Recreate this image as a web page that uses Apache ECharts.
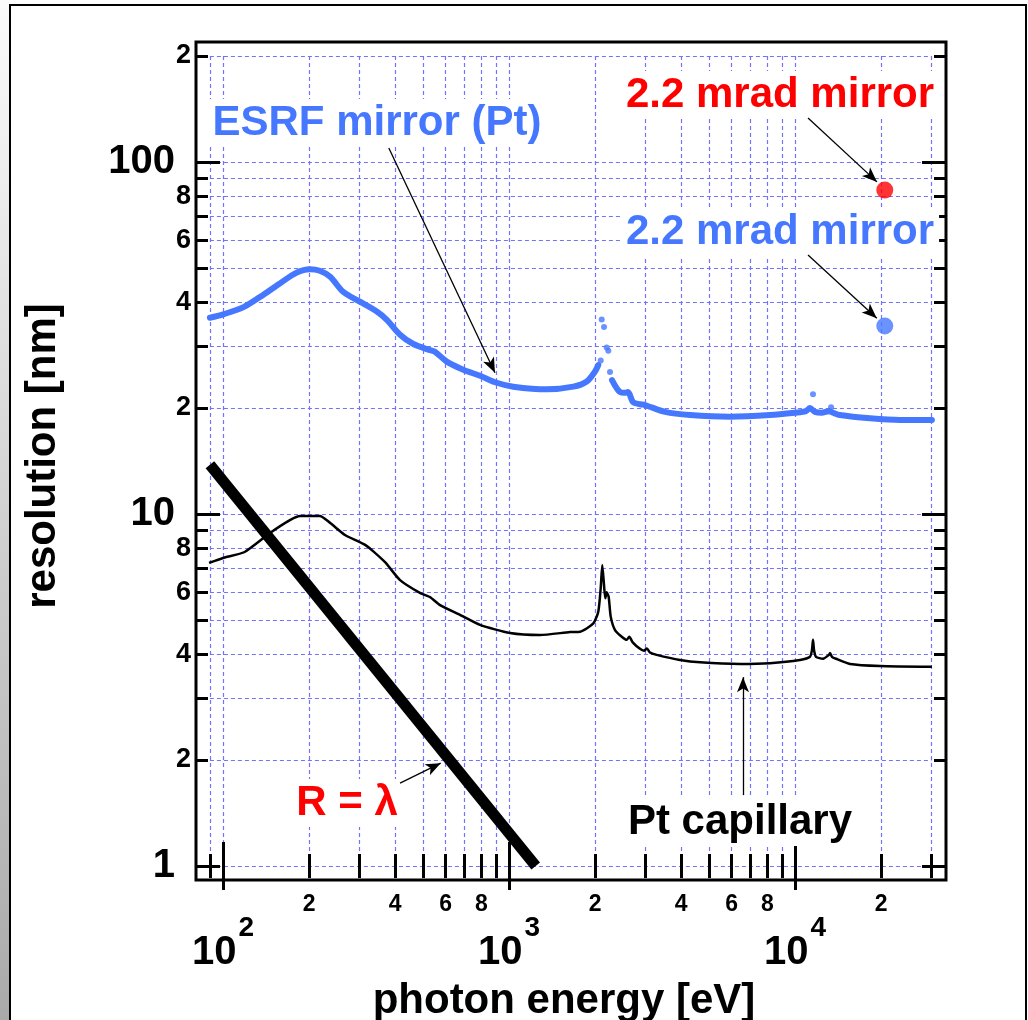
<!DOCTYPE html>
<html>
<head>
<meta charset="utf-8">
<script src="https://cdn.jsdelivr.net/npm/echarts@6/dist/echarts.min.js"></script>
<style>
html, body { margin: 0; padding: 0; background: #fff; }
#main { width: 1028px; height: 1020px; }
</style>
</head>
<body>
<div id="main"></div>
<script>
// ---- data (energy in eV, resolution in nm) ----
var esrfLowE  = [90, 100, 118, 135, 158, 181, 201, 218, 237, 263, 301, 345, 374, 416, 463, 530, 551, 606, 692, 792, 906, 1035, 1355, 1678, 1870, 1999, 2052];
var esrfLowR  = [36.1, 36.9, 38.7, 41.4, 45.2, 48.5, 49.6, 49.1, 47.2, 42.8, 40.1, 37.6, 35.6, 32.3, 30.4, 29.2, 28.9, 27.1, 25.7, 24.7, 23.6, 23.0, 22.6, 23.0, 23.8, 25.4, 26.5];
var esrfHighE = [2292, 2444, 2544, 2607, 2714, 2871, 2989, 3512, 4296, 5925, 8177, 10000, 10926, 11283, 11745, 12405, 13150, 13580, 14340, 18290, 23290, 30100];
var esrfHighR = [24.0, 22.2, 22.1, 22.2, 20.8, 20.5, 20.4, 19.5, 19.1, 18.9, 19.1, 19.4, 19.6, 20.0, 19.5, 19.4, 19.6, 19.4, 19.1, 18.7, 18.5, 18.5];
var esrfDotE  = [2092, 2109, 2149, 2196, 2225, 2255, 11560, 13370];
var esrfDotR  = [27.3, 35.7, 34.0, 29.7, 29.1, 25.3, 21.9, 20.1];

var capE = [89.4, 100, 119, 146, 172, 186, 218, 237, 267, 314, 368, 416, 488, 529, 574, 674, 792, 1008, 1283, 1634, 1772, 1972, 2052, 2092, 2119, 2149, 2171, 2196, 2231, 2268, 2348, 2479, 2579, 2634, 2707, 2871, 2965, 3037, 3112, 3284, 3963, 4654, 6423, 8177, 10411, 11283, 11466, 11560, 11653, 11842, 12529, 13150, 13260, 13470, 13910, 15570, 19830, 30100];
var capR = [7.26, 7.50, 7.80, 8.83, 9.62, 9.87, 9.87, 9.43, 8.72, 8.17, 7.31, 6.49, 5.97, 5.81, 5.51, 5.17, 4.84, 4.59, 4.53, 4.62, 4.63, 4.89, 5.28, 6.15, 7.16, 6.28, 5.76, 5.99, 5.82, 5.11, 4.68, 4.48, 4.39, 4.48, 4.32, 4.14, 4.09, 4.15, 4.04, 3.98, 3.85, 3.79, 3.75, 3.77, 3.85, 3.93, 4.11, 4.39, 4.11, 3.93, 3.88, 3.98, 4.03, 3.93, 3.88, 3.75, 3.70, 3.68];

var lambdaE = [90, 1240];
var lambdaR = [13.8, 1.0];

var mirrorE = [20600];
var mirrorRedR = [83.2];
var mirrorBlueR = [34.2];

// annotation arrows: [startE, startR, endE, endR]
var arrows = [
  [380, 109.6, 893, 25.2],
  [11106, 133.4, 19350, 87.8],
  [11106, 54.4, 19320, 36.0],
  [416, 1.72, 577, 1.96],
  [6580, 1.59, 6580, 3.44]
];

// ticks
var xMinorTicks = [90, 200, 300, 400, 500, 600, 700, 800, 900, 2000, 3000, 4000, 5000, 6000, 7000, 8000, 9000, 20000, 30000];
var xMajorTicks = [100, 1000, 10000];
var xDigitLabels = [200, 400, 600, 800, 2000, 4000, 6000, 8000, 20000];
var yMinorTicks = [2, 3, 4, 5, 6, 7, 8, 9, 20, 30, 40, 50, 60, 70, 80, 90, 200];
var yMajorTicks = [1, 10, 100];
var yDigitLabels = [2, 4, 6, 8, 20, 40, 60, 80, 200];

// ---- layout ----
var LOG = Math.log10;
var X0 = 223, XD = 286, Y0 = 866, YD = 352;   // px of 100 eV / 1 nm, px per decade
var FR = { l: 196, r: 946, t: 42, b: 880 };
var xA = [2 + (FR.l - X0) / XD, 2 + (FR.r - X0) / XD];
var yA = [(Y0 - FR.b) / YD, (Y0 - FR.t) / YD];
var xB = [LOG(90), LOG(30000)];
var yB = [0, LOG(200)];

var FONT = 'Liberation Sans, Arial, sans-serif';
var BLUE = '#4678ff';
var RED = '#ff0000';
var GRIDC = '#7272ff';

function pairs(e, r) { return e.map(function (v, i) { return [LOG(v), LOG(r[i])]; }); }
function logs(a) { return a.map(LOG); }
function leadDigit(v) {
  var n = Math.round(Math.pow(10, v));
  return String(Math.round(n / Math.pow(10, Math.floor(LOG(n) + 1e-9))));
}

var tickStyle = { color: '#000', width: 3 };

function frameAxis(dim, pos, ticks, len, label) {
  var ax = {
    type: 'value', gridIndex: 0, position: pos,
    min: dim === 'x' ? xA[0] : yA[0], max: dim === 'x' ? xA[1] : yA[1],
    axisLine: { show: false },
    splitLine: { show: false },
    axisTick: { show: true, inside: true, length: len, lineStyle: tickStyle, customValues: logs(ticks) },
    axisLabel: { show: false }
  };
  if (label) ax.axisLabel = label;
  return ax;
}

var xAxes = [
  frameAxis('x', 'bottom', xMinorTicks, 12, {
    show: true, customValues: logs(xDigitLabels), margin: 13,
    color: '#000', fontSize: 23, fontWeight: 'bold', fontFamily: FONT,
    formatter: leadDigit
  }),
  frameAxis('x', 'bottom', xMajorTicks, 24, {
    show: true, customValues: logs(xMajorTicks), margin: 34,
    color: '#000', fontFamily: FONT,
    formatter: function (v) { return '{b|10}{s|' + Math.round(v) + '}'; },
    rich: {
      b: { fontSize: 40, fontWeight: 'bold', fontFamily: FONT, color: '#000', verticalAlign: 'middle', lineHeight: 77 },
      s: { fontSize: 28, fontWeight: 'bold', fontFamily: FONT, color: '#000', verticalAlign: 'top', lineHeight: 28, padding: [0, 0, 0, 2] }
    }
  }),
  frameAxis('x', 'top', xMinorTicks, 12),
  frameAxis('x', 'top', xMajorTicks, 24),
  {
    type: 'value', gridIndex: 1, min: xB[0], max: xB[1],
    axisLine: { show: false }, axisLabel: { show: false },
    axisTick: { show: false, customValues: logs(xMinorTicks.concat(xMajorTicks)) },
    splitLine: { show: true, lineStyle: { color: GRIDC, width: 1.2, type: [4, 3] } }
  }
];

var yAxes = [
  frameAxis('y', 'left', yMinorTicks, 12, {
    show: true, customValues: logs(yDigitLabels), margin: 5,
    color: '#000', fontSize: 27, fontWeight: 'bold', fontFamily: FONT,
    formatter: leadDigit
  }),
  frameAxis('y', 'left', yMajorTicks, 24, {
    show: true, customValues: logs(yMajorTicks), margin: 21,
    color: '#000', fontSize: 40, fontWeight: 'bold', fontFamily: FONT,
    formatter: function (v) { return String(Math.round(Math.pow(10, v))); }
  }),
  frameAxis('y', 'right', yMinorTicks, 12),
  frameAxis('y', 'right', yMajorTicks, 24),
  {
    type: 'value', gridIndex: 1, min: yB[0], max: yB[1],
    axisLine: { show: false }, axisLabel: { show: false },
    axisTick: { show: false, customValues: logs(yMinorTicks.concat(yMajorTicks)) },
    splitLine: { show: true, lineStyle: { color: GRIDC, width: 1.2, type: [4, 3] } }
  }
];

function textEl(txt, x, y, color, rot) {
  return {
    type: 'text', x: x, y: y, rotation: rot || 0, z: 1,
    style: {
      text: txt, x: 0, y: 0, fill: color,
      font: 'bold 42px ' + FONT, align: 'center', verticalAlign: 'middle',
      backgroundColor: '#fff', padding: [3, 5]
    }
  };
}

var option = {
  animation: false,
  backgroundColor: '#fff',
  grid: [
    { left: FR.l, top: FR.t, width: FR.r - FR.l, height: FR.b - FR.t, containLabel: false },
    { left: X0 + (xB[0] - 2) * XD, top: Y0 - yB[1] * YD, width: (xB[1] - xB[0]) * XD, height: yB[1] * YD, containLabel: false }
  ],
  xAxis: xAxes,
  yAxis: yAxes,
  graphic: [
    { type: 'rect', shape: { x: 0, y: 0, width: 10, height: 1020 }, z: 0,
      style: { fill: new echarts.graphic.LinearGradient(0, 0, 0, 1, [{ offset: 0, color: '#fbfbfb' }, { offset: 1, color: '#a9a9a9' }]) } },
    { type: 'rect', shape: { x: 10, y: 5, width: 1016, height: 1030 }, z: 5,
      style: { fill: 'none', stroke: '#000', lineWidth: 2 } },
    { type: 'rect', shape: { x: FR.l, y: FR.t, width: FR.r - FR.l, height: FR.b - FR.t }, z: 5,
      style: { fill: 'none', stroke: '#000', lineWidth: 3 } },
    textEl('ESRF mirror (Pt)', 377, 123, BLUE),
    textEl('2.2 mrad mirror', 780, 95, RED),
    textEl('2.2 mrad mirror', 780, 232, BLUE),
    textEl('R = \u03bb', 347, 803, RED),
    textEl('Pt capillary', 740, 822, '#000'),
    { type: 'text', x: 43, y: 456, rotation: Math.PI / 2, z: 1,
      style: { text: 'resolution [nm]', x: 0, y: 0, fill: '#000', font: 'bold 42px ' + FONT, align: 'center', verticalAlign: 'middle' } },
    { type: 'text', x: 564, y: 1001, z: 1,
      style: { text: 'photon energy [eV]', x: 0, y: 0, fill: '#000', font: 'bold 42px ' + FONT, align: 'center', verticalAlign: 'middle' } }
  ],
  series: [
    { name: 'Pt capillary', type: 'line', xAxisIndex: 4, yAxisIndex: 4, data: pairs(capE, capR),
      showSymbol: false, smooth: 0.2, lineStyle: { color: '#000', width: 2.5, join: 'round' }, z: 3 },
    { name: 'ESRF low', type: 'line', xAxisIndex: 4, yAxisIndex: 4, data: pairs(esrfLowE, esrfLowR),
      showSymbol: false, smooth: 0.3, lineStyle: { color: BLUE, width: 6, cap: 'round', join: 'round' }, z: 3 },
    { name: 'ESRF high', type: 'line', xAxisIndex: 4, yAxisIndex: 4, data: pairs(esrfHighE, esrfHighR),
      showSymbol: false, smooth: 0.3, lineStyle: { color: BLUE, width: 6, cap: 'round', join: 'round' }, z: 3 },
    { name: 'ESRF dots', type: 'scatter', xAxisIndex: 4, yAxisIndex: 4, data: pairs(esrfDotE, esrfDotR),
      symbolSize: 6, itemStyle: { color: BLUE }, z: 3 },
    { name: 'R = lambda', type: 'line', xAxisIndex: 4, yAxisIndex: 4, data: pairs(lambdaE, lambdaR),
      showSymbol: false, lineStyle: { color: '#000', width: 11, cap: 'butt' }, z: 3 },
    { name: 'mirror red', type: 'scatter', xAxisIndex: 4, yAxisIndex: 4, data: pairs(mirrorE, mirrorRedR),
      symbolSize: 17, itemStyle: { color: RED }, z: 4 },
    { name: 'mirror blue', type: 'scatter', xAxisIndex: 4, yAxisIndex: 4, data: pairs(mirrorE, mirrorBlueR),
      symbolSize: 17, itemStyle: { color: BLUE }, z: 4 },
    { name: 'arrows', type: 'line', xAxisIndex: 4, yAxisIndex: 4, data: [], z: 4,
      markLine: {
        silent: true, symbol: ['none', 'arrow'], symbolSize: [9, 15],
        label: { show: false },
        lineStyle: { color: '#000', width: 1.3, type: 'solid' },
        data: arrows.map(function (a) {
          return [{ coord: [LOG(a[0]), LOG(a[1])] }, { coord: [LOG(a[2]), LOG(a[3])] }];
        })
      } }
  ]
};

var chart = echarts.init(document.getElementById('main'), null, { renderer: 'canvas' });
chart.setOption(option);
</script>
</body>
</html>
